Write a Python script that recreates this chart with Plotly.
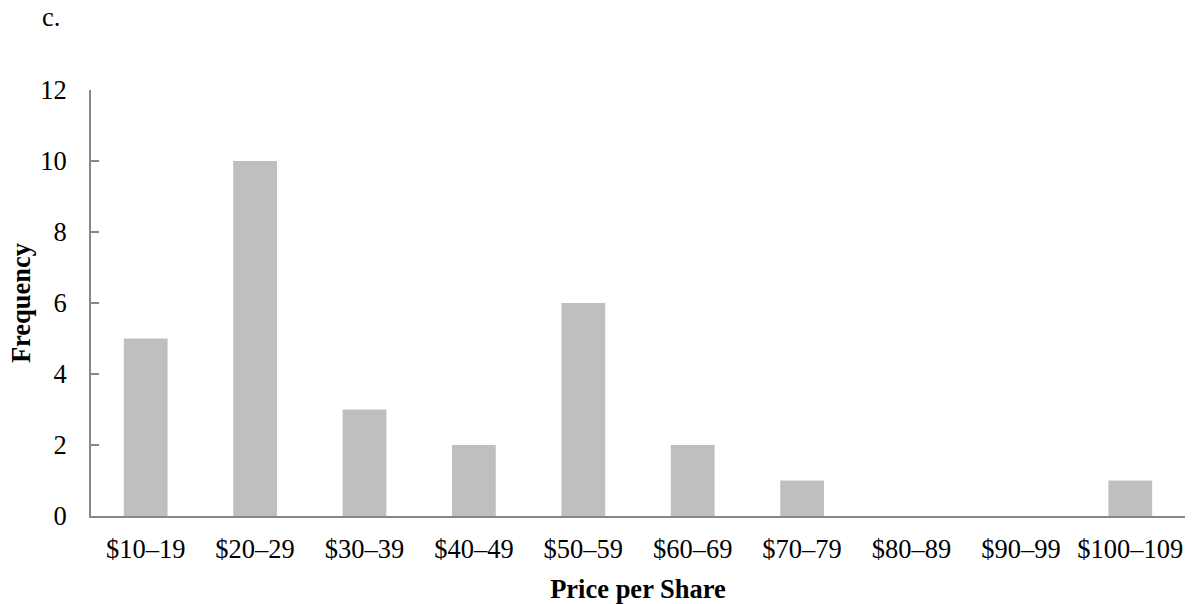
import plotly.graph_objects as go

categories = ["$10–19", "$20–29", "$30–39", "$40–49", "$50–59",
              "$60–69", "$70–79", "$80–89", "$90–99", "$100–109"]
frequency = [5, 10, 3, 2, 6, 2, 1, 0, 0, 1]
y_ticks = [0, 2, 4, 6, 8, 10, 12]

FONT = "Liberation Serif, Times New Roman, serif"
FS = 26.5
W, H = 1194, 604

fig = go.Figure(go.Bar(x=categories, y=frequency, marker_color="#BFBFBF",
                       marker_line_width=0))

fig.update_layout(
    width=W, height=H,
    margin=dict(l=91, r=9, t=90, b=88, autoexpand=False),
    paper_bgcolor="white", plot_bgcolor="white",
    bargap=0.6,
    font=dict(family=FONT, size=FS, color="black"),
    title=dict(text="c.", xref="container", yref="container",
               x=42/W, xanchor="left", y=1-17/H, yanchor="middle",
               font=dict(family=FONT, size=FS, color="black")),
    showlegend=False,
)
fig.update_xaxes(
    showline=True, linecolor="#888888", linewidth=2,
    ticks="", showgrid=False, ticklabelstandoff=8, automargin=False,
    title=dict(text="<b>Price per Share</b>", standoff=20,
               font=dict(family=FONT, size=FS)),
)
fig.update_yaxes(
    range=[0, 12], tickvals=y_ticks, showline=True, linecolor="#888888",
    linewidth=2, ticks="inside", ticklen=8, tickwidth=2, tickcolor="#888888",
    showgrid=False, zeroline=False, ticklabelstandoff=17, automargin=False,
    title=dict(text="<b>Frequency</b>", standoff=2,
               font=dict(family=FONT, size=FS)),
)

# remove the browser's default 8px body margin so the figure fills the window
fig.write_html("out.html", config={"displayModeBar": False},
               post_script="document.body.style.margin='0';")
